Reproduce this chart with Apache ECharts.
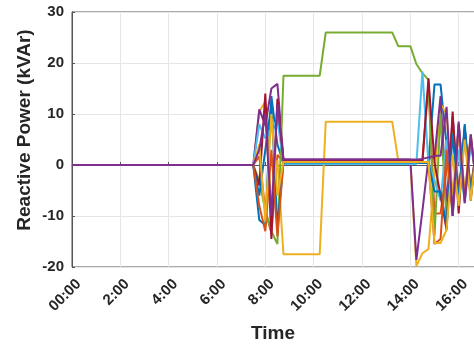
<!DOCTYPE html>
<html>
<head>
<meta charset="utf-8">
<script src="https://cdn.jsdelivr.net/npm/echarts@6/dist/echarts.min.js"></script>
<style>
  html, body { margin: 0; padding: 0; background: #fff; }
  #chart { width: 474px; height: 345px; }
</style>
</head>
<body>
<div id="chart"></div>
<script>
// time of each sample, in hours since midnight
const hours = [0, 7.5, 7.75, 8, 8.25, 8.5, 8.75, 10.25, 10.5, 13.25, 13.5, 13.75, 14,
    14.25, 14.5, 14.75, 15, 15.25, 15.5, 15.75, 16, 16.25, 16.5, 16.75, 17];

// reactive power per unit (kVAr), one array per line
const q1  = [0, 0, -10.8, -11.8, 13.5, 4, 0.4, 0.4, 0.4, 0.4, 0.4, 0.4, 0.4, 0.4, 0.4, 0.4, 15.8, 15.8, 4, -9, 8, -6, 5, -4, 3];
const q2  = [0, 0, 1.7, -9, -13.4, 2, 0.6, 0.6, 0.6, 0.6, 0.6, 0.6, 0.6, 0.6, 0.6, 16, -9.5, -9.5, -1, 7, -5, 5, -4, 3, -2];
const q3  = [0, 0, 10.5, 12.4, -8, 1, -17.5, -17.5, 8.5, 8.5, 0.8, 0.8, 0.8, -19.8, -17.3, -16.5, -2, 12, 10, -6, 7, -5, 5, -4, 3];
const q4  = [0, 0, 10.9, 7.8, 15, 15.9, 1.1, 1.1, 1.1, 1.1, 1.1, 1.1, 1.1, -18.6, -9, 1.2, 1.5, 13.5, -8, 9.5, -6, 7, -5, 4, -3];
const q5  = [0, 0, -3, -9, -13, -15.5, 17.5, 17.5, 26, 26, 23.3, 23.3, 23.3, 19.8, 18, 16.7, -14, 10, -11, 8.5, -8, 7, -6, 4.5, -3.5];
const q6  = [0, 0, 8, 5.2, 6.9, 9, 0.2, 0.2, 0.2, 0.2, 0.2, 0.2, 0.2, 0.2, 18.3, 0.3, -3, -7, 5, -10, 3, -7.5, 4, -3, 2.5];
const q7  = [0, 0, -4, 14, -14.5, 13, 0.8, 0.8, 0.8, 0.8, 0.8, 0.8, 0.8, 0.8, 0.8, 17, 0.5, -6, -12.7, 10.5, -9.5, 7.5, -7, 5, -4];
const q8  = [0, 0, -6, 3, 12, -12, 0.5, 0.5, 0.5, 0.5, 0.5, 0.5, 0.5, 0.5, 0.5, 0.5, -5.2, -5.2, -12, 6, -7, 8, -6, 3, -2];
const q9  = [0, 0, -8, -13, 3, -14, 0.6, 0.6, 0.6, 0.6, 0.6, 0.6, 0.6, 0.6, 0.6, 0.6, -15.5, -14.5, 3, -10, 8, -7, 6, -5, 3];
const q10 = [0, 0, 4, -11, 10, -6, 0.6, 0.6, 0.6, 0.6, 0.6, 0.6, 0.6, 0.6, 0.6, 0.6, -15.3, -15.3, -12.7, 2, -8, 5, -7, 4, -3];
const q11 = [0, 0, 3, 10, -10, 12, 1.1, 1.1, 1.1, 1.1, 1.1, 1.1, 1.1, 1.1, 1.2, 1.5, 1.8, 1.8, 11.4, -10, 8.5, -7.5, 6, -5, 4];

const lines = [q1, q2, q3, q4, q5, q6, q7, q8, q9, q10, q11];
// MATLAB default colour order, cycling
const colors = ['#0072BD', '#D95319', '#EDB120', '#7E2F8E', '#77AC30', '#4DBEEE', '#A2142F'];

const yTicks = { min: -20, max: 30, step: 10 };
const xTicks = { min: 0, max: 24, step: 2 };

const textColor = '#262626';
const font = 'Liberation Sans, Arial, sans-serif';

const chart = echarts.init(document.getElementById('chart'), null, { renderer: 'canvas' });

chart.setOption({
    backgroundColor: '#fff',
    animation: false,
    grid: {
        left: 72,
        top: 12,
        width: 580,   // full 0-24 h axis; the right part is cut off like the reference
        height: 255,
        outerBoundsMode: 'none',
        containLabel: false,
        show: true,
        borderColor: '#555',
        borderWidth: 1,
    },
    xAxis: {
        type: 'value',
        min: xTicks.min,
        max: xTicks.max,
        interval: xTicks.step,
        axisLine: { show: true, lineStyle: { color: '#555', width: 1 } },
        axisTick: { show: true, inside: true, length: 3, lineStyle: { color: '#555' } },
        axisLabel: {
            rotate: 45,
            margin: 8,
            verticalAlign: 'top',
            padding: [2, 0, 0, 0],
            color: textColor,
            fontSize: 15,
            fontWeight: 'bold',
            fontFamily: font,
            formatter: (v) => (v === 0 ? '00:00' : v + ':00'),
        },
        splitLine: { show: true, lineStyle: { color: '#e6e6e6', width: 1 } },
    },
    yAxis: {
        type: 'value',
        min: yTicks.min,
        max: yTicks.max,
        interval: yTicks.step,
        axisLine: { show: true, lineStyle: { color: '#555', width: 1 } },
        axisTick: { show: true, inside: true, length: 3, lineStyle: { color: '#555' } },
        axisLabel: {
            margin: 8,
            color: textColor,
            fontSize: 15,
            fontWeight: 'bold',
            fontFamily: font,
        },
        splitLine: { show: true, lineStyle: { color: '#e6e6e6', width: 1 } },
    },
    graphic: [{
        type: 'text',
        x: 25, y: 130,
        rotation: Math.PI / 2,
        style: {
            text: 'Reactive Power (kVAr)',
            textAlign: 'center',
            textVerticalAlign: 'middle',
            fill: textColor,
            font: 'bold 19px ' + font,
        },
    }, {
        type: 'text',
        x: 273, y: 334,
        style: {
            text: 'Time',
            textAlign: 'center',
            textVerticalAlign: 'middle',
            fill: textColor,
            font: 'bold 19px ' + font,
        },
    }],
    series: lines.map((vals, i) => ({
        type: 'line',
        data: hours.map((h, k) => [h, vals[k]]),
        symbol: 'none',
        clip: true,
        lineStyle: { color: colors[i % colors.length], width: 2 },
    })),
});
</script>
</body>
</html>
